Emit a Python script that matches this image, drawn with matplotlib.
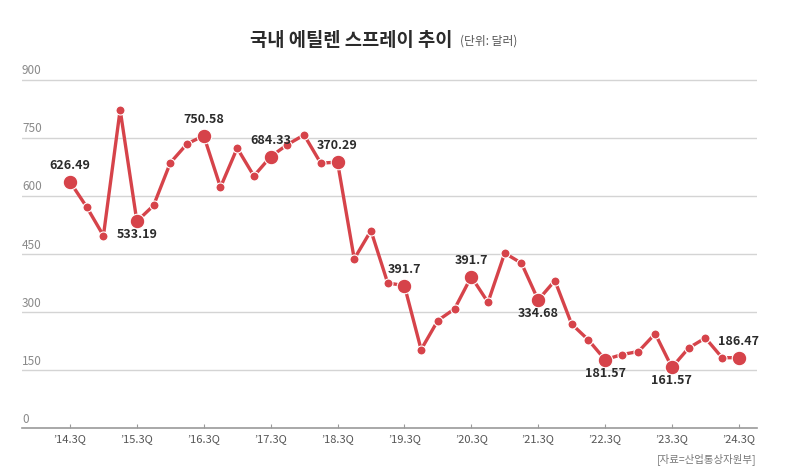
import matplotlib.pyplot as plt
import matplotlib.transforms as mtransforms

plt.rcParams['font.family'] = ['Noto Sans CJK KR', 'DejaVu Sans']

# quarterly values, '14.3Q .. '24.3Q
values = [636, 571, 497, 822, 534, 575, 685, 734, 755, 622,
          723, 651, 701, 732, 757, 684, 687, 437, 510, 375,
          368, 203, 278, 308, 391, 325, 452, 426, 331, 381,
          269, 228, 177, 190, 198, 244, 157, 207, 233, 182,
          182]

tick_labels = ["’14.3Q", "’15.3Q", "’16.3Q", "’17.3Q", "’18.3Q", "’19.3Q",
               "’20.3Q", "’21.3Q", "’22.3Q", "’23.3Q", "’24.3Q"]

y_ticks = [0, 150, 300, 450, 600, 750, 900]

# labelled points (every 3Q) and the text printed next to them
label_idx = [0, 4, 8, 12, 16, 20, 24, 28, 32, 36, 40]
label_text = ['626.49', '533.19', '750.58', '684.33', '370.29', '391.7',
              '391.7', '334.68', '181.57', '161.57', '186.47']
label_side = ['up', 'down', 'up', 'up', 'up', 'up',
              'up', 'down', 'down', 'down', 'up']

red = '#d6434a'
x = list(range(len(values)))

fig = plt.figure(figsize=(8, 4.75), dpi=100)
ax = fig.add_axes([0.0275, 0.0985, 0.919, 0.783])

ax.set_xlim(-2.87, 41.1)
ax.set_ylim(0, 960)

for v in y_ticks[1:]:
    ax.axhline(v, color='#d4d4d4', lw=1.0, zorder=0)

trans = mtransforms.blended_transform_factory(ax.transAxes, ax.transData)
for v in y_ticks:
    ax.text(0.0, v + 6, str(v), transform=trans, ha='left', va='bottom',
            fontsize=8.5, color='#8a8a8a')

ax.plot(x, values, color=red, lw=2.4, marker='o', markersize=6.5,
        markeredgecolor='white', markeredgewidth=0.8, zorder=3)
ax.plot([x[i] for i in label_idx], [values[i] for i in label_idx],
        linestyle='none', marker='o', markersize=10.5, color=red,
        markeredgecolor='white', markeredgewidth=0.8, zorder=4)

for i, t, s in zip(label_idx, label_text, label_side):
    if s == 'up':
        off, va = (0, 7), 'bottom'
    else:
        off, va = (0, -5), 'top'
    ax.annotate(t, (x[i], values[i]), xytext=off, textcoords='offset points',
                ha='center', va=va, fontsize=9, fontweight='bold',
                color='#2b2b2b', zorder=5)

for s in ['top', 'right', 'left']:
    ax.spines[s].set_visible(False)
ax.spines['bottom'].set_color('#9a9a9a')
ax.spines['bottom'].set_linewidth(1.2)

ax.set_yticks([])
ax.set_xticks(label_idx)
ax.set_xticklabels(tick_labels)
ax.tick_params(axis='x', direction='in', length=3, color='#9a9a9a',
               labelsize=8, labelcolor='#555555', pad=4)

fig.text(0.566, 0.915, '국내 에틸렌 스프레이 추이', ha='right', va='center',
         fontsize=13.5, fontweight='bold', color='#2b2b2b')
fig.text(0.575, 0.913, '(단위: 달러)', ha='left', va='center',
         fontsize=8.5, color='#555555')
fig.text(0.946, 0.034, '[자료=산업통상자원부]', ha='right', va='center',
         fontsize=7.5, color='#777777')

fig.savefig('out.png', dpi=100)
